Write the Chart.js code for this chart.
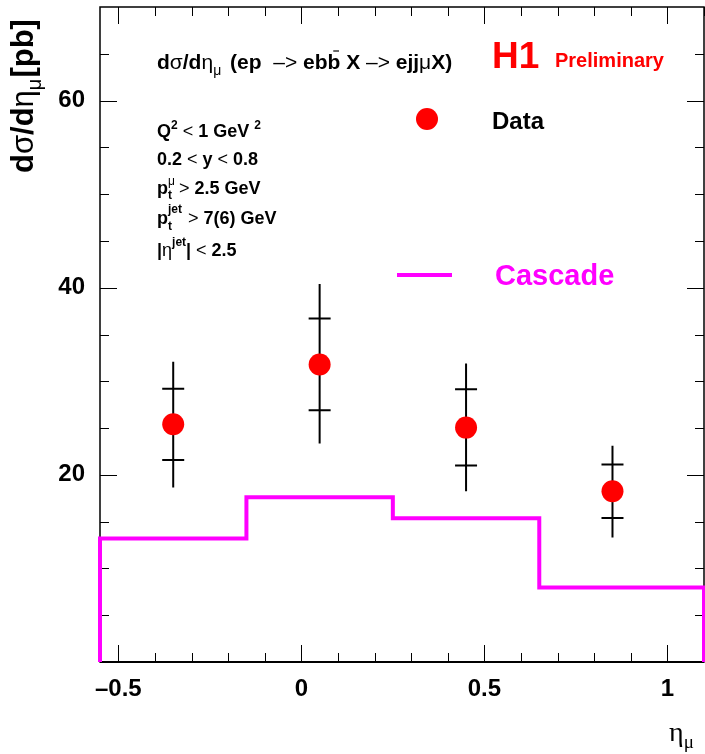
<!DOCTYPE html>
<html>
<head>
<meta charset="utf-8">
<script src="https://cdn.jsdelivr.net/npm/chart.js@4/dist/chart.umd.min.js"></script>
<style>
html, body { margin: 0; padding: 0; background: #fff; }
canvas { display: block; }
</style>
</head>
<body>
<canvas id="eta_mu" width="705" height="754"></canvas>
<script>
// measured cross section in bins of muon pseudorapidity
const etaCentres = [-0.35, 0.05, 0.45, 0.85];
const xsec = [25.4, 31.8, 25.05, 18.25];
const statUp = [29.2, 36.7, 29.15, 21.1];
const statDown = [21.6, 26.9, 21.0, 15.4];
const totUp = [32.1, 40.4, 31.9, 23.1];
const totDown = [18.65, 23.35, 18.25, 13.3];

// Cascade prediction, one value per bin
const binEdges = [-0.55, -0.15, 0.25, 0.65, 1.1];
const cascade = [13.2, 17.6, 15.35, 7.95];

const xTicks = [-0.5, 0, 0.5, 1];
const yTicks = [20, 40, 60];

const SANS = '"Liberation Sans", Arial, Helvetica, sans-serif';
const SERIF = '"Liberation Serif", "Times New Roman", serif';
const B = n => 'bold ' + n + 'px ' + SANS;
const R = n => n + 'px ' + SANS;

// histogram outline: up the first edge, across each bin, down the last edge
const histPts = [{ x: binEdges[0], y: 0 }];
cascade.forEach((v, i) => {
    histPts.push({ x: binEdges[i], y: v }, { x: binEdges[i + 1], y: v });
});
histPts.push({ x: binEdges[binEdges.length - 1], y: 0 });

const dataPts = etaCentres.map((x, i) => ({ x: x, y: xsec[i] }));

// draws a run of text pieces with their own fonts and offsets
function rich(ctx, x, y, parts) {
    let cx = x;
    parts.forEach(p => {
        ctx.font = p.f;
        ctx.fillStyle = p.c || '#000';
        const w = ctx.measureText(p.t).width;
        ctx.fillText(p.t, cx, y + (p.dy || 0));
        if (p.bar) {
            ctx.strokeStyle = p.c || '#000';
            ctx.lineWidth = 1.2;
            ctx.beginPath();
            ctx.moveTo(cx + w * 0.45, y - p.bar);
            ctx.lineTo(cx + w * 0.9, y - p.bar);
            ctx.stroke();
        }
        if (!p.stay) cx += w + (p.gap || 0);
    });
    return cx;
}

// keep the plot frame fixed: no extra room for overhanging tick labels
function noPad(s) {
    s.paddingTop = 0;
    s.paddingBottom = 0;
    s.paddingLeft = 0;
    s.paddingRight = 0;
}

const framePlugin = {
    id: 'frame',
    beforeDatasetsDraw(chart) {
        const ctx = chart.ctx;
        const a = chart.chartArea;
        const xs = chart.scales.x, ys = chart.scales.y;
        ctx.save();
        ctx.strokeStyle = '#000';
        ctx.lineWidth = 1.5;
        ctx.strokeRect(a.left, a.top, a.right - a.left, a.bottom - a.top);
        ctx.lineWidth = 2;
        ctx.beginPath();
        ctx.moveTo(a.left, a.bottom);
        ctx.lineTo(a.right, a.bottom);
        ctx.stroke();

        ctx.lineWidth = 1;
        ctx.beginPath();
        for (let i = -5; i <= 11; i++) {
            const px = Math.round(xs.getPixelForValue(i / 10)) + 0.5;
            const len = i % 5 === 0 ? 17 : 9;
            ctx.moveTo(px, a.bottom);
            ctx.lineTo(px, a.bottom - len);
            ctx.moveTo(px, a.top);
            ctx.lineTo(px, a.top + len);
        }
        for (let v = 5; v < 70; v += 5) {
            const py = Math.round(ys.getPixelForValue(v)) + 0.5;
            const len = v % 20 === 0 ? 17 : 9;
            ctx.moveTo(a.left, py);
            ctx.lineTo(a.left + len, py);
            ctx.moveTo(a.right, py);
            ctx.lineTo(a.right - len, py);
        }
        ctx.stroke();

        // error bars: total uncertainty as the full line, statistical with caps
        ctx.lineWidth = 2;
        ctx.beginPath();
        etaCentres.forEach((x, i) => {
            const px = xs.getPixelForValue(x);
            ctx.moveTo(px, ys.getPixelForValue(totUp[i]));
            ctx.lineTo(px, ys.getPixelForValue(totDown[i]));
            [statUp[i], statDown[i]].forEach(v => {
                const py = ys.getPixelForValue(v);
                ctx.moveTo(px - 11, py);
                ctx.lineTo(px + 11, py);
            });
        });
        ctx.stroke();
        ctx.restore();
    },
    afterDraw(chart) {
        const ctx = chart.ctx;
        ctx.save();
        ctx.textBaseline = 'alphabetic';
        ctx.textAlign = 'left';

        rich(ctx, 157, 69, [
            { t: 'd', f: B(21) }, { t: 'σ', f: R(21) }, { t: '/d', f: B(21) },
            { t: 'η', f: R(21) }, { t: 'μ', f: R(14), dy: 6, gap: 3 },
            { t: ' (ep  ', f: B(21) }, { t: '–>', f: R(21) }, { t: ' eb', f: B(21) },
            { t: 'b', f: B(21), bar: 18 }, { t: ' X ', f: B(21) }, { t: '–>', f: R(21) },
            { t: ' ejj', f: B(21) }, { t: 'μ', f: R(21) }, { t: 'X)', f: B(21) }
        ]);

        rich(ctx, 492, 68, [{ t: 'H1', f: B(37), c: '#ff0000' }]);
        rich(ctx, 555, 67, [{ t: 'Preliminary', f: B(20), c: '#ff0000' }]);

        // legend
        ctx.fillStyle = '#ff0000';
        ctx.beginPath();
        ctx.arc(427, 119, 11, 0, Math.PI * 2);
        ctx.fill();
        rich(ctx, 492, 129, [{ t: 'Data', f: B(24) }]);
        ctx.strokeStyle = '#ff00ff';
        ctx.lineWidth = 4;
        ctx.beginPath();
        ctx.moveTo(397, 275);
        ctx.lineTo(452, 275);
        ctx.stroke();
        rich(ctx, 495, 285, [{ t: 'Cascade', f: B(29), c: '#ff00ff' }]);

        // selection cuts
        rich(ctx, 157, 137, [
            { t: 'Q', f: B(18) }, { t: '2', f: B(12), dy: -8 }, { t: ' ', f: B(18) },
            { t: '<', f: R(18) }, { t: ' 1 GeV ', f: B(18) }, { t: '2', f: B(12), dy: -8 }
        ]);
        rich(ctx, 157, 165, [
            { t: '0.2 ', f: B(18) }, { t: '<', f: R(18) }, { t: ' y ', f: B(18) },
            { t: '<', f: R(18) }, { t: ' 0.8', f: B(18) }
        ]);
        rich(ctx, 157, 194, [
            { t: 'p', f: B(18) }, { t: 'μ', f: R(12), dy: -9, stay: true },
            { t: 't', f: B(12), dy: 5, gap: 2 }, { t: ' ', f: B(18) },
            { t: '>', f: R(18) }, { t: ' 2.5 GeV', f: B(18) }
        ]);
        rich(ctx, 157, 224, [
            { t: 'p', f: B(18) }, { t: 't', f: B(12), dy: 6, stay: true },
            { t: 'jet', f: B(12), dy: -11, gap: 1 }, { t: ' ', f: B(18) },
            { t: '>', f: R(18) }, { t: ' 7(6) GeV', f: B(18) }
        ]);
        rich(ctx, 157, 256, [
            { t: '|', f: B(18) }, { t: 'η', f: R(18) }, { t: 'jet', f: B(12), dy: -10 },
            { t: '|', f: B(18) }, { t: ' ', f: B(18) }, { t: '<', f: R(18) },
            { t: ' 2.5', f: B(18) }
        ]);

        // axis titles
        rich(ctx, 669, 741, [
            { t: 'η', f: '28px ' + SERIF }, { t: 'μ', f: '19px ' + SERIF, dy: 7 }
        ]);
        ctx.translate(33, 173);
        ctx.rotate(-Math.PI / 2);
        rich(ctx, 0, 0, [
            { t: 'd', f: B(31) }, { t: 'σ', f: R(31) }, { t: '/d', f: B(31) },
            { t: 'η', f: R(31) }, { t: 'μ', f: R(20), dy: 8, gap: 1 },
            { t: '[pb]', f: B(31) }
        ]);
        ctx.restore();
    }
};

new Chart(document.getElementById('eta_mu'), {
    type: 'scatter',
    data: {
        datasets: [{
            label: 'Cascade',
            type: 'line',
            data: histPts,
            borderColor: '#ff00ff',
            borderWidth: 4,
            pointRadius: 0,
            fill: false,
            tension: 0,
            clip: false
        }, {
            label: 'Data',
            data: dataPts,
            backgroundColor: '#ff0000',
            borderWidth: 0,
            pointRadius: 11,
            pointHoverRadius: 11
        }]
    },
    options: {
        responsive: false,
        animation: false,
        layout: { autoPadding: false, padding: { left: 0, right: 1, top: 7, bottom: 0 } },
        plugins: {
            legend: { display: false },
            tooltip: { enabled: false }
        },
        scales: {
            x: {
                type: 'linear',
                min: -0.55,
                max: 1.1,
                grid: { display: false },
                border: { display: false },
                afterBuildTicks: s => { s.ticks = xTicks.map(v => ({ value: v })); },
                afterFit: s => { s.height = 92; noPad(s); },
                ticks: {
                    color: '#000',
                    font: { family: SANS, size: 24, weight: 'bold' },
                    padding: 5,
                    maxRotation: 0,
                    callback: v => v < 0 ? '–' + Math.abs(v) : String(v)
                }
            },
            y: {
                min: 0,
                max: 70,
                grid: { display: false },
                border: { display: false },
                afterBuildTicks: s => { s.ticks = yTicks.map(v => ({ value: v })); },
                afterFit: s => { s.width = 100; noPad(s); },
                ticks: {
                    color: '#000',
                    font: { family: SANS, size: 24, weight: 'bold' },
                    padding: 7
                }
            }
        }
    },
    plugins: [framePlugin]
});
</script>
</body>
</html>
